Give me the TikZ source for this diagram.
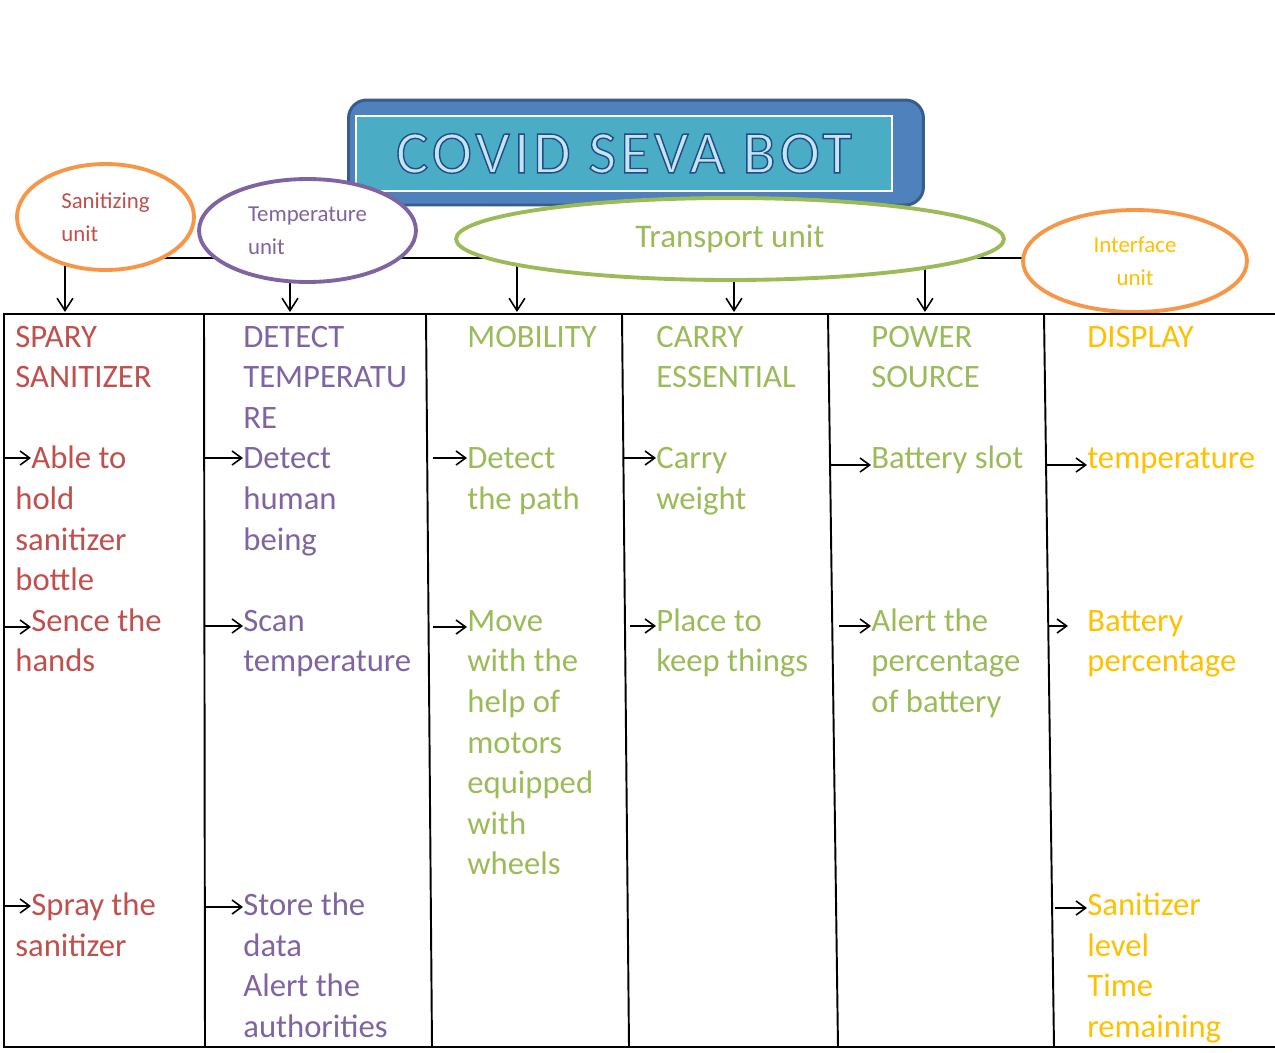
\documentclass[tikz,border=0pt]{standalone}
\usepackage{fontspec}
\setmainfont{Carlito}
\newfontfamily\titlefont[LetterSpace=7]{Carlito}
\usepackage{xcolor}
\usetikzlibrary{positioning,arrows.meta,shapes.geometric}
\definecolor{sanred}{HTML}{C0504D}
\definecolor{tempviolet}{HTML}{8064A2}
\definecolor{transgreen}{HTML}{9BBB59}
\definecolor{facegold}{HTML}{FFC000}
\definecolor{unitorange}{HTML}{F79646}
\definecolor{titleblue}{HTML}{4F81BD}
\definecolor{titleedge}{HTML}{385D8A}
\definecolor{titlecyan}{HTML}{4BACC6}
\definecolor{letterfill}{RGB}{196,228,242}
\newcommand{\outlinetext}[1]{\special{pdf:literal direct 2 Tr 0.8 w 0.13 0.30 0.55 RG}#1\special{pdf:literal direct 0 Tr}}
\tikzset{
  unit/.style={ellipse,draw,line width=2.2pt,fill=white,inner sep=0pt,align=left,font=\fontsize{13}{18.5}\selectfont},
  colhead/.style={anchor=base west,inner sep=0pt,align=left,font=\fontsize{18.6}{23.1}\selectfont},
  colitem/.style={colhead},
  rule/.style={line width=1.1pt},
  downarrow/.style={-{Straight Barb[length=7pt,width=9pt]},line width=0.9pt},
  sidearrow/.style={-{Straight Barb[length=5.5pt,width=8pt]},line width=0.9pt}
}

\begin{document}
\begin{tikzpicture}[x=0.02cm,y=-0.02cm]
  \useasboundingbox (0,0) rectangle (1275,1052);

  % title
  \node[draw=titleedge,line width=1.7pt,fill=titleblue,rounded corners=0.36cm,
        minimum width=11.5cm,minimum height=2.1cm,inner sep=0pt] (titlebox) at (636,152.5) {};
  \node[draw=white,line width=1.5pt,fill=titlecyan,minimum width=10.72cm,minimum height=1.5cm,
        inner sep=0pt,text=letterfill,font=\titlefont\fontsize{34.4}{37}\selectfont] (title) at (624,153.5)
        {\outlinetext{COVID SEVA BOT}};

  % bus and drops
  \coordinate (busL) at (65,258);
  \coordinate (busR) at (1135,258);
  \coordinate (drop1) at (65,312);
  \coordinate (drop2) at (290,312);
  \coordinate (drop3) at (517,312);
  \coordinate (drop4) at (734,312);
  \coordinate (drop5) at (925,312);
  \draw[line width=0.9pt] (busL) -- (busR);
  \draw[downarrow] (busL) -- (drop1);
  \draw[downarrow] (drop2 |- busL) -- (drop2);
  \draw[downarrow] (drop3 |- busL) -- (drop3);
  \draw[downarrow] (drop4 |- busL) -- (drop4);
  \draw[downarrow] (drop5 |- busL) -- (drop5);

  % units
  \node[unit,draw=unitorange,text=sanred,minimum width=3.54cm,minimum height=2.12cm] (sanunit) at (105.5,217) {Sanitizing\\unit};
  \node[unit,draw=tempviolet,text=tempviolet,minimum width=4.34cm,minimum height=2.06cm] (tempunit) at (307.5,230.5) {Temperature\\unit};
  \node[unit,draw=transgreen,text=transgreen,font=\fontsize{18.8}{23}\selectfont,
        minimum width=10.96cm,minimum height=1.64cm] (transunit) at (730,239) {Transport unit};
  \node[unit,draw=unitorange,text=facegold,align=center,minimum width=4.48cm,minimum height=2.04cm] (faceunit) at (1135,261) {Interface\\unit};

  % table rules
  \draw[rule] (3,314) -- (1275,314);
  \draw[rule] (3,1047) -- (1275,1047);
  \draw[rule] (4,314) -- (4,1047);
  \draw[rule] (204,314) -- (205,1047);
  \draw[rule] (426,314) -- (432,1047);
  \draw[rule] (622,314) -- (629,1047);
  \draw[rule] (828,314) -- (838,1047);
  \draw[rule] (1044,314) -- (1054,1047);

  % sanitizer column (node base = last line)
  \node[colhead,text=sanred] (sprayhead) at (15,387.6) {SPARY\\SANITIZER};
  \node[colitem,text=sanred] (spA) at (31,468.8) {Able to};
  \node[colitem,text=sanred] (spA2) at (15,590.6) {hold\\sanitizer\\bottle};
  \node[colitem,text=sanred] (spB) at (31,631.2) {Sence the};
  \node[colitem,text=sanred] (spB2) at (15,671.8) {hands};
  \node[colitem,text=sanred] (spC) at (31,915.4) {Spray the};
  \node[colitem,text=sanred] (spC2) at (15,956) {sanitizer};

  % temperature column
  \node[colhead,text=tempviolet] (dethead) at (243,428.2) {DETECT\\TEMPERATU\\RE};
  \node[colitem,text=tempviolet] (deA) at (243,550) {Detect\\human\\being};
  \node[colitem,text=tempviolet] (deB) at (243,671.8) {Scan\\temperature};
  \node[colitem,text=tempviolet] (deC) at (243,1037.2) {Store the\\data\\Alert the\\authorities};

  % mobility column
  \node[colhead,text=transgreen] (mobhead) at (467,347) {MOBILITY};
  \node[colitem,text=transgreen] (moA) at (467,509.4) {Detect\\the path};
  \node[colitem,text=transgreen] (moB) at (467,874.8) {Move\\with the\\help of\\motors\\equipped\\with\\wheels};

  % carry column
  \node[colhead,text=transgreen] (carhead) at (656,387.6) {CARRY\\ESSENTIAL};
  \node[colitem,text=transgreen] (caA) at (656,509.4) {Carry\\weight};
  \node[colitem,text=transgreen] (caB) at (656,671.8) {Place to\\keep things};

  % power column
  \node[colhead,text=transgreen] (powhead) at (871,387.6) {POWER\\SOURCE};
  \node[colitem,text=transgreen] (poA) at (871,468.8) {Battery slot};
  \node[colitem,text=transgreen] (poB) at (871,712.4) {Alert the\\percentage\\of battery};

  % display column
  \node[colhead,text=facegold] (dishead) at (1087,347) {DISPLAY};
  \node[colitem,text=facegold] (diA) at (1087,468.8) {temperature};
  \node[colitem,text=facegold] (diB) at (1087,671.8) {Battery\\percentage};
  \node[colitem,text=facegold] (diC) at (1087,1037.2) {Sanitizer\\level\\Time\\remaining};

  % item arrows
  \coordinate (inA1) at (4,458);
  \coordinate (inB1) at (4,627);
  \coordinate (inC1) at (4,906);
  \coordinate (inA2) at (205,458);
  \coordinate (inB2) at (205,626);
  \coordinate (inC2) at (205,907);
  \coordinate (inA3) at (433,458);
  \coordinate (inB3) at (433,627);
  \coordinate (inA4) at (623,458);
  \coordinate (inB4) at (630,626);
  \coordinate (inA5) at (830,465);
  \coordinate (inB5) at (839,626);
  \coordinate (inA6) at (1047,465);
  \coordinate (inB6) at (1049,626);
  \coordinate (outB6) at (1068,626);
  \coordinate (inC6) at (1055,908);
  \draw[sidearrow] (inA1) -- (inA1 -| spA.west);
  \draw[sidearrow] (inB1) -- (inB1 -| spB.west);
  \draw[sidearrow] (inC1) -- (inC1 -| spC.west);
  \draw[sidearrow] (inA2) -- (inA2 -| deA.west);
  \draw[sidearrow] (inB2) -- (inB2 -| deB.west);
  \draw[sidearrow] (inC2) -- (inC2 -| deC.west);
  \draw[sidearrow] (inA3) -- (inA3 -| moA.west);
  \draw[sidearrow] (inB3) -- (inB3 -| moB.west);
  \draw[sidearrow] (inA4) -- (inA4 -| caA.west);
  \draw[sidearrow] (inB4) -- (inB4 -| caB.west);
  \draw[sidearrow] (inA5) -- (inA5 -| poA.west);
  \draw[sidearrow] (inB5) -- (inB5 -| poB.west);
  \draw[sidearrow] (inA6) -- (inA6 -| diA.west);
  \draw[sidearrow] (inB6) -- (outB6);
  \draw[sidearrow] (inC6) -- (inC6 -| diC.west);
\end{tikzpicture}
\end{document}
